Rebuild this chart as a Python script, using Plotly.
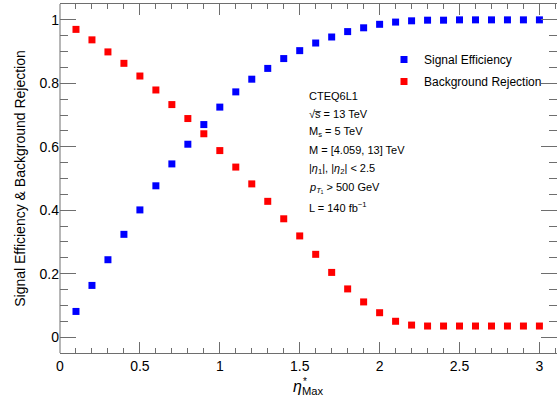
import plotly.graph_objects as go

# eta*_max cut values and the resulting efficiencies
eta_max = [0.1, 0.2, 0.3, 0.4, 0.5, 0.6, 0.7, 0.8, 0.9, 1.0,
           1.1, 1.2, 1.3, 1.4, 1.5, 1.6, 1.7, 1.8, 1.9, 2.0,
           2.1, 2.2, 2.3, 2.4, 2.5, 2.6, 2.7, 2.8, 2.9, 3.0]
signal_eff = [0.081, 0.163, 0.244, 0.324, 0.401, 0.477, 0.546, 0.608, 0.670, 0.725,
              0.773, 0.813, 0.847, 0.878, 0.903, 0.927, 0.946, 0.963, 0.975, 0.986,
              0.993, 0.997, 0.999, 0.999, 1.0, 1.0, 1.0, 1.0, 1.0, 1.0]
bkg_rej = [0.970, 0.937, 0.899, 0.863, 0.823, 0.779, 0.733, 0.689, 0.641, 0.588,
           0.536, 0.483, 0.428, 0.373, 0.319, 0.261, 0.204, 0.152, 0.111, 0.077,
           0.050, 0.038, 0.035, 0.035, 0.035, 0.035, 0.035, 0.035, 0.035, 0.035]

info_lines = [
    "CTEQ6L1",
    "√s\u0305 = 13 TeV",
    "M<sub>s</sub> = 5 TeV",
    "M = [4.059, 13] TeV",
    "|<i>η</i><sub>1</sub>|, |<i>η</i><sub>2</sub>| &lt; 2.5",
    "<i>p</i><sub><i>T</i>₁</sub> &gt; 500 GeV",
    "L = 140 fb<sup>−1</sup>",
]

W, H = 557, 403
ML, MR, MT, MB = 60, 0, 4, 50
PW, PH = W - ML - MR, H - MT - MB


def px(x):
    return (x - ML) / PW


def py(y):
    return (H - MB - y) / PH


FONT = "Liberation Sans, Arial, sans-serif"
AXC = "#6e6e6e"

fig = go.Figure()
fig.add_trace(go.Scatter(
    x=eta_max, y=signal_eff, mode="markers", name="Signal Efficiency",
    legendgroup="s",
    marker=dict(symbol="square", size=7, color="#0000ff", line=dict(width=0)),
))
fig.add_trace(go.Scatter(
    x=eta_max, y=bkg_rej, mode="markers", name="Background Rejection",
    legendgroup="b",
    marker=dict(symbol="square", size=7, color="#ff0000", line=dict(width=0)),
))

axis_common = dict(
    showgrid=False, zeroline=False, linecolor=AXC, linewidth=1,
    mirror="allticks", ticks="inside", tickcolor=AXC, tickwidth=1,
    tickfont=dict(family=FONT, size=14, color="#000"),
)

fig.update_xaxes(
    range=[0, 3.11], dtick=0.5, tick0=0, ticklen=11, showline=True,
    minor=dict(dtick=0.1, ticklen=5, tickcolor=AXC, ticks="inside"),
    **axis_common,
)
# the right-hand frame edge falls just outside the canvas, so only the
# left edge is drawn (as a shape below) while ticks are mirrored
fig.update_yaxes(
    range=[-0.05, 1.05], dtick=0.2, tick0=0, ticklen=16, showline=False,
    minor=dict(dtick=0.05, ticklen=8, tickcolor=AXC, ticks="inside"),
    title=dict(text="Signal Efficiency & Background Rejection",
               font=dict(family=FONT, size=14, color="#000"), standoff=10),
    **axis_common,
)
fig.add_shape(type="line", xref="paper", yref="paper", x0=0, x1=0, y0=0, y1=1,
              line=dict(color=AXC, width=1))

annotations = []
line_y = [96, 114, 132, 150, 169, 188, 207]
for txt, yy in zip(info_lines, line_y):
    annotations.append(dict(
        text=txt, xref="paper", yref="paper", x=px(307), y=py(yy),
        xanchor="left", yanchor="middle", showarrow=False,
        font=dict(family=FONT, size=11, color="#000"),
    ))

# x-axis title: eta with stacked * and Max
annotations.append(dict(
    text="<i>η</i><sub>Max</sub>", xref="paper", yref="paper",
    x=px(291), y=py(387), xanchor="left", yanchor="middle", showarrow=False,
    font=dict(family=FONT, size=16, color="#000"),
))
annotations.append(dict(
    text="*", xref="paper", yref="paper",
    x=px(301), y=py(381), xanchor="left", yanchor="middle", showarrow=False,
    font=dict(family=FONT, size=10, color="#000"),
))

fig.update_layout(
    width=W, height=H,
    margin=dict(l=ML, r=MR, t=MT, b=MB, pad=0),
    paper_bgcolor="white", plot_bgcolor="white",
    showlegend=True,
    legend=dict(
        x=px(384), y=py(45), xanchor="left", yanchor="top",
        bgcolor="rgba(0,0,0,0)", borderwidth=0,
        font=dict(family=FONT, size=12, color="#000"),
        traceorder="grouped", tracegroupgap=3,
    ),
    annotations=annotations,
)

fig.write_html("out.html")
